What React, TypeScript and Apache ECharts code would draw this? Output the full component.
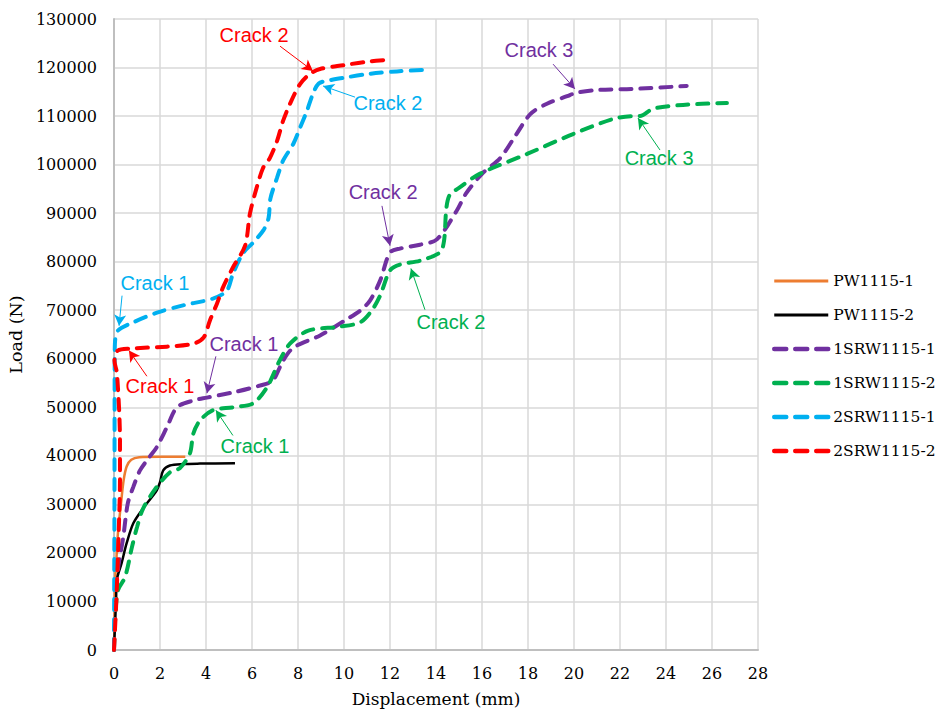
import React, { useEffect, useRef } from "react";
import * as echarts from "echarts";

// Load–displacement curves: [displacement (mm), load (N)]
const pw1115_1: number[][] = [
  [0, 0], [0.02, 6000], [0.05, 14000], [0.12, 20000], [0.17, 24000], [0.3, 30000],
  [0.42, 35000], [0.55, 37800], [0.75, 39200], [1.1, 39700], [2, 39800], [3.1, 39800],
];
const pw1115_2: number[][] = [
  [0, 0], [0.04, 4700], [0.09, 10300], [0.12, 14400], [0.33, 17900], [0.55, 22000],
  [0.84, 26100], [1.27, 29200], [1.86, 32900], [2.0, 34600], [2.14, 37000], [2.43, 38000],
  [3.0, 38300], [3.74, 38400], [5.26, 38500],
];
const srw1_1: number[][] = [
  [0, 0], [0.05, 8000], [0.17, 16500], [0.4, 23200], [0.6, 30200], [0.84, 33600],
  [1.13, 37000], [1.5, 39500], [1.86, 41800], [2.3, 45900], [2.74, 50000], [3.45, 51400],
  [4.04, 52000], [5.2, 53100], [6.35, 54500], [6.9, 55500], [7.35, 59600], [7.8, 62300],
  [8.96, 64800], [10.04, 67900], [10.7, 69900], [11.13, 72000], [11.57, 76100], [12.0, 81900],
  [12.43, 82700], [13.3, 83500], [14.04, 84600], [14.9, 90500], [15.3, 94000], [16.0, 98100],
  [16.8, 101400], [17.5, 106300], [18.1, 110400], [18.8, 112500], [19.7, 114100],
  [20.1, 114800], [21.1, 115400], [22.6, 115600], [24.9, 116200],
];
const srw1_2: number[][] = [
  [0, 0], [0.04, 5500], [0.17, 12300], [0.48, 15000], [0.78, 21200], [1.0, 25300],
  [1.27, 29200], [1.86, 33600], [2.43, 36600], [2.87, 37500], [3.3, 40500], [3.45, 44600],
  [3.74, 47300], [4.3, 49400], [5.17, 50000], [6.04, 50800], [6.65, 54100], [7.2, 59600],
  [7.65, 63100], [8.45, 65800], [9.8, 66600], [10.7, 67500], [11.2, 69900], [11.57, 73000],
  [12.0, 78200], [12.43, 79400], [13.3, 80200], [14.17, 81900], [14.35, 84300], [14.45, 91000],
  [14.6, 93800], [15.0, 95200], [15.9, 98100], [17.96, 102200], [19.96, 106300], [21.7, 109400],
  [22.57, 110000], [22.87, 110000], [23.43, 111500], [24.74, 112300], [26.65, 112700],
];
const srw2_1: number[][] = [
  [0, 0], [0.02, 30000], [0.03, 60000], [0.04, 63100], [0.17, 65800], [0.83, 67500],
  [1.87, 69500], [3.0, 71000], [4.3, 72400], [4.9, 74000], [5.17, 77500], [5.6, 81700],
  [6.04, 83900], [6.5, 86500], [6.72, 89000], [6.8, 93000], [7.09, 97300], [7.35, 100800],
  [7.8, 104300], [8.09, 107600], [8.39, 111100], [8.65, 114600], [8.9, 116700], [9.3, 117300],
  [10.0, 117900], [11.1, 118700], [12.3, 119200], [13.4, 119500],
];
const srw2_2: number[][] = [
  [0, 0], [0.04, 4000], [0.1, 10000], [0.15, 16500], [0.22, 26700], [0.26, 35000],
  [0.26, 43000], [0.13, 57000], [0.02, 59600], [0.17, 61700], [0.7, 62100], [2.3, 62500],
  [3.45, 63100], [3.9, 64400], [4.17, 67900], [4.48, 71400], [4.74, 74700], [5.17, 78800],
  [5.7, 83300], [5.91, 89900], [6.2, 95200], [6.48, 99300], [6.78, 101400], [7.09, 104900],
  [7.35, 109000], [7.65, 112500], [8.09, 116600], [8.52, 118700], [8.96, 119700],
  [10.0, 120500], [11.0, 121200], [11.9, 121600],
];

const seriesNames = ["PW1115-1", "PW1115-2", "1SRW1115-1", "1SRW1115-2", "2SRW1115-1", "2SRW1115-2"];
const seriesData = [pw1115_1, pw1115_2, srw1_1, srw1_2, srw2_1, srw2_2];
const seriesColors = ["#ED7D31", "#000000", "#7030A0", "#00B050", "#00B0F0", "#FF0000"];
const seriesDashed = [false, false, true, true, true, true];

// Crack annotations: label anchor, arrow tail, arrow tip (data units)
const crackNotes = [
  { series: 5, text: "Crack 2", at: [6.09, 126700], from: [7.22, 124400], to: [8.65, 119300] },
  { series: 4, text: "Crack 2", at: [11.91, 112700], from: [10.48, 113900], to: [9.09, 116200] },
  { series: 2, text: "Crack 3", at: [18.48, 123600], from: [19.09, 120700], to: [20.04, 115600] },
  { series: 3, text: "Crack 3", at: [23.7, 101400], from: [23.74, 103000], to: [22.78, 109600] },
  { series: 2, text: "Crack 2", at: [11.7, 94400], from: [11.65, 91500], to: [12.0, 83300] },
  { series: 3, text: "Crack 2", at: [14.65, 67500], from: [13.52, 70100], to: [12.91, 78600] },
  { series: 4, text: "Crack 1", at: [1.78, 75700], from: [0.35, 73000], to: [0.22, 66800] },
  { series: 2, text: "Crack 1", at: [5.65, 63100], from: [4.43, 60500], to: [4.04, 52900] },
  { series: 5, text: "Crack 1", at: [2.0, 54300], from: [1.43, 56400], to: [0.65, 61700] },
  { series: 3, text: "Crack 1", at: [6.13, 42000], from: [5.17, 44200], to: [4.43, 49400] },
];

const serif = "DejaVu Serif";
const sans = "Liberation Sans";

const dashedLine = (color: string) => ({ color, width: 4, type: [11, 9], cap: "round" });
const solidLine = (color: string) => ({ color, width: 2.5, type: "solid" });

export default function App() {
  const ref = useRef<HTMLDivElement>(null);

  useEffect(() => {
    if (!ref.current) return;
    const chart = echarts.init(ref.current, undefined, { renderer: "svg" });

    const series = seriesNames.map((name, i) => {
      const notes = crackNotes.filter((n) => n.series === i);
      const color = seriesColors[i];
      return {
        name,
        type: "line",
        data: seriesData[i],
        smooth: 0.3,
        symbol: "none",
        showSymbol: false,
        lineStyle: seriesDashed[i] ? dashedLine(color) : solidLine(color),
        itemStyle: { color },
        markLine: notes.length
          ? {
              silent: true,
              symbol: ["none", "arrow"],
              symbolSize: [9, 11],
              label: { show: false },
              lineStyle: { color, width: 1, type: "solid" },
              data: notes.map((n) => [{ coord: n.from }, { coord: n.to }]),
            }
          : undefined,
        markPoint: notes.length
          ? {
              silent: true,
              symbol: "rect",
              symbolSize: 1,
              itemStyle: { color: "rgba(0,0,0,0)" },
              label: {
                show: true,
                position: "inside",
                color,
                fontFamily: sans,
                fontSize: 20,
                formatter: (p: any) => p.name,
              },
              data: notes.map((n) => ({ name: n.text, coord: n.at })),
            }
          : undefined,
      };
    });

    chart.setOption({
      animation: false,
      backgroundColor: "#ffffff",
      grid: {
        left: 114,
        top: 19,
        right: 178,
        bottom: 60,
        containLabel: false,
        outerBoundsMode: "none",
      },
      xAxis: {
        type: "value",
        min: 0,
        max: 28,
        interval: 2,
        name: "Displacement (mm)",
        nameLocation: "middle",
        nameGap: 40,
        nameTextStyle: { fontFamily: serif, fontSize: 17, color: "#000" },
        axisLine: { show: true, lineStyle: { color: "#BFBFBF", width: 2 } },
        axisTick: { show: false },
        axisLabel: { fontFamily: serif, fontSize: 16, color: "#000", margin: 15 },
        splitLine: { show: true, lineStyle: { color: "#D9D9D9", width: 1.5 } },
      },
      yAxis: {
        type: "value",
        min: 0,
        max: 130000,
        interval: 10000,
        name: "Load (N)",
        nameLocation: "middle",
        nameGap: 86,
        nameRotate: 90,
        nameTextStyle: { fontFamily: serif, fontSize: 17.5, color: "#000" },
        axisLine: { show: true, lineStyle: { color: "#BFBFBF", width: 2 } },
        axisTick: { show: false },
        axisLabel: {
          fontFamily: serif,
          fontSize: 16,
          color: "#000",
          margin: 17,
          formatter: (v: number) => String(v),
        },
        splitLine: { show: true, lineStyle: { color: "#D9D9D9", width: 1.5 } },
      },
      legend: {
        orient: "vertical",
        left: 767,
        top: 268,
        itemWidth: 54,
        itemHeight: 14,
        itemGap: 18,
        itemStyle: { color: "rgba(0,0,0,0)", borderWidth: 0 },
        textStyle: { fontFamily: serif, fontSize: 15.5, color: "#000" },
        data: seriesNames.map((name, i) => ({
          name,
          lineStyle: seriesDashed[i]
            ? { ...dashedLine(seriesColors[i]), width: 4.5, type: [12, 9] }
            : { ...solidLine(seriesColors[i]), width: 3 },
        })),
      },
      series,
    });

    return () => chart.dispose();
  }, []);

  return (
    <div
      ref={ref}
      style={{ position: "absolute", left: 0, top: 0, width: 936, height: 710 }}
    />
  );
}
